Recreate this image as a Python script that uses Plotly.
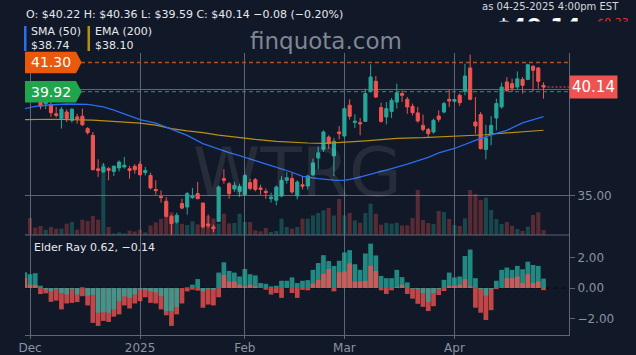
import plotly.graph_objects as go
import pandas as pd

# ---------------- data ----------------
holidays = ['2024-12-25', '2025-01-01', '2025-01-09', '2025-01-20', '2025-02-17', '2025-04-18']
dates = [d.strftime('%Y-%m-%d') for d in pd.bdate_range('2024-11-29', '2025-04-25')
         if d.strftime('%Y-%m-%d') not in holidays]

opens = [40.30, 40.15, 39.75, 39.47, 39.35, 39.32, 38.88, 38.65, 38.96, 38.57,
         38.73, 38.76, 38.18, 37.86, 36.28, 36.13, 36.29, 36.16, 36.32, 36.37,
         36.29, 36.40, 36.50, 36.10, 35.97, 35.31, 34.98, 34.75, 34.04, 33.77,
         34.64, 34.48, 34.92, 35.11, 34.67, 33.68, 33.54, 33.80, 35.82, 35.58,
         35.33, 35.22, 35.06, 35.63, 35.77, 35.38, 35.22, 34.87, 34.80, 35.00,
         35.74, 35.82, 35.00, 35.53, 35.47, 36.00, 36.79, 37.20, 37.78, 36.89,
         38.02, 37.83, 39.28, 38.47, 38.46, 38.52, 39.94, 40.41, 39.17, 38.73,
         38.99, 39.43, 39.83, 39.56, 39.23, 38.92, 38.33, 38.14, 38.02, 38.77,
         38.96, 39.56, 39.47, 39.75, 39.94, 41.04, 38.49, 38.84, 37.19, 37.89,
         38.68, 39.20, 40.38, 40.30, 40.14, 40.50, 40.50, 41.12, 41.04, 40.22]
highs = [40.40, 40.30, 40.35, 39.51, 39.47, 39.43, 39.20, 39.20, 39.09, 39.15,
         38.88, 39.12, 38.25, 38.02, 36.73, 36.56, 36.37, 36.45, 36.68, 36.84,
         36.42, 36.50, 36.64, 36.37, 36.10, 35.74, 35.27, 34.95, 34.12, 34.21,
         34.87, 35.19, 35.38, 35.66, 34.67, 34.12, 33.65, 35.50, 36.26, 35.66,
         35.66, 35.58, 36.05, 35.82, 35.85, 35.53, 35.35, 35.16, 35.50, 35.93,
         36.13, 36.10, 35.74, 35.94, 36.00, 36.76, 37.34, 38.10, 37.86, 37.74,
         38.30, 39.20, 39.56, 38.85, 38.68, 40.06, 41.21, 40.66, 39.40, 39.43,
         39.62, 40.30, 39.98, 39.67, 39.36, 39.20, 38.84, 38.21, 38.65, 39.04,
         39.45, 40.03, 39.59, 39.83, 41.24, 41.67, 39.67, 38.96, 38.36, 38.77,
         39.59, 40.35, 40.61, 40.53, 40.88, 40.61, 41.24, 41.16, 41.08, 40.36]
lows = [40.00, 39.60, 39.59, 39.09, 39.10, 38.73, 38.70, 38.18, 38.49, 38.46,
        38.41, 38.30, 37.90, 36.21, 35.90, 36.10, 35.74, 35.94, 36.16, 36.29,
        35.82, 36.05, 35.97, 35.97, 35.31, 35.06, 34.69, 34.00, 33.14, 33.70,
        34.37, 34.12, 34.87, 34.87, 33.49, 33.49, 33.30, 33.77, 35.58, 34.87,
        35.19, 34.95, 35.03, 35.27, 35.22, 35.06, 34.87, 34.69, 34.56, 34.94,
        35.58, 35.11, 34.84, 35.30, 35.30, 35.94, 36.26, 37.08, 37.23, 35.94,
        37.67, 37.78, 38.60, 38.21, 37.86, 38.49, 39.87, 39.62, 38.46, 38.38,
        38.68, 39.12, 39.43, 38.88, 38.80, 38.46, 38.05, 37.74, 37.94, 38.49,
        38.90, 39.20, 39.40, 39.25, 39.75, 39.51, 37.94, 37.20, 36.73, 37.39,
        38.10, 39.12, 39.91, 39.91, 40.03, 39.83, 40.46, 39.94, 40.06, 39.59]
closes = [40.15, 39.70, 39.62, 39.23, 39.45, 38.93, 38.80, 39.09, 38.65, 39.09,
          38.65, 38.36, 37.99, 36.24, 36.20, 36.37, 36.21, 36.40, 36.60, 36.45,
          36.20, 36.24, 36.00, 36.20, 35.38, 35.25, 34.92, 34.04, 33.70, 34.09,
          34.43, 35.11, 35.00, 34.87, 33.54, 33.60, 33.46, 35.42, 35.74, 35.11,
          35.50, 35.45, 35.97, 35.35, 35.31, 35.31, 35.16, 34.95, 35.42, 35.74,
          35.86, 35.19, 35.66, 35.46, 35.94, 36.56, 37.04, 38.02, 37.47, 37.58,
          37.94, 39.12, 38.76, 38.53, 38.40, 39.83, 40.61, 39.67, 38.52, 39.12,
          39.51, 39.87, 39.75, 39.20, 38.93, 38.54, 38.14, 37.94, 38.57, 38.62,
          39.36, 39.48, 39.55, 39.40, 40.66, 39.56, 38.30, 37.23, 37.74, 38.33,
          39.36, 40.14, 39.98, 40.09, 40.53, 40.22, 41.19, 40.93, 40.41, 40.14]
volumes_k = [120, 1530, 660, 810, 480, 720, 570, 570, 1020, 1170,
             480, 1380, 1260, 1710, 1380, 6390, 720, 140, 240, 150,
             400, 320, 480, 240, 860, 1130, 1440, 1760, 2040, 1220,
             1010, 900, 1230, 950, 1400, 1710, 1490, 1020, 1920, 1040,
             1080, 1920, 1170, 1170, 420, 330, 630, 270, 360, 1470,
             720, 570, 720, 1470, 1470, 1770, 1980, 2220, 2430, 1760,
             3240, 1770, 1980, 1320, 1110, 1980, 2820, 1920, 930, 1080,
             1020, 1110, 860, 860, 1530, 4050, 1350, 1080, 990, 2160,
             2070, 1440, 900, 810, 1500, 4050, 3690, 3150, 3360, 2250,
             1440, 990, 1170, 840, 540, 360, 750, 1800, 2040, 450]

# SMA(50) and EMA(200) at selected sessions
sma_dates = ['2024-11-29', '2024-12-03', '2024-12-05', '2024-12-11', '2024-12-17', '2024-12-20',
             '2024-12-24', '2024-12-27', '2025-01-02', '2025-01-07', '2025-01-13', '2025-01-16',
             '2025-01-22', '2025-01-27', '2025-01-29', '2025-01-31', '2025-02-05', '2025-02-11',
             '2025-02-14', '2025-02-19', '2025-02-24', '2025-02-27', '2025-03-03', '2025-03-05',
             '2025-03-10', '2025-03-14', '2025-03-19', '2025-03-25', '2025-03-27', '2025-04-01',
             '2025-04-07', '2025-04-10', '2025-04-15', '2025-04-21', '2025-04-25']
sma50 = [39.12, 39.23, 39.28, 39.34, 39.32, 39.20, 39.05, 38.88, 38.60, 38.44,
         38.15, 37.86, 37.47, 37.20, 37.05, 36.90, 36.66, 36.37, 36.12, 35.93,
         35.82, 35.75, 35.74, 35.83, 36.02, 36.29, 36.50, 36.82, 37.03, 37.24,
         37.62, 37.88, 38.10, 38.45, 38.74]
ema_dates = ['2024-11-29', '2024-12-06', '2024-12-18', '2024-12-23', '2024-12-26', '2024-12-30',
             '2025-01-02', '2025-01-07', '2025-01-13', '2025-01-16', '2025-01-22', '2025-01-27',
             '2025-01-29', '2025-01-31', '2025-02-05', '2025-02-11', '2025-02-14', '2025-02-20',
             '2025-02-25', '2025-02-28', '2025-03-04', '2025-03-07', '2025-03-12', '2025-03-17',
             '2025-03-24', '2025-03-27', '2025-04-03', '2025-04-09', '2025-04-11', '2025-04-17',
             '2025-04-22', '2025-04-25']
ema200 = [38.60, 38.62, 38.58, 38.54, 38.49, 38.47, 38.44, 38.34, 38.18, 38.07,
          37.99, 37.87, 37.81, 37.75, 37.67, 37.58, 37.53, 37.50, 37.48, 37.51,
          37.55, 37.60, 37.66, 37.72, 37.75, 37.78, 37.86, 37.89, 37.94, 38.00,
          38.05, 38.10]

# Elder Ray bull / bear power
elder_bull = [1.04, 0.91, 0.98, 0.15, -0.10, -0.22, -0.07, -0.33, -0.43, -0.07,
              -0.43, 0.05, -0.50, -0.45, -1.63, -1.59, -1.63, -1.41, -0.87, -0.54,
              -0.65, -0.43, -0.11, -0.11, -0.22, -0.28, -0.54, -1.52, -1.52, -1.24,
              0.00, 0.05, 0.22, 0.59, -0.22, -0.05, -0.11, 1.02, 1.70, 1.13,
              1.02, 0.76, 1.26, 0.91, 0.83, 0.33, 0.28, 0.11, 0.15, 0.48,
              0.48, 0.70, 0.33, 0.48, 0.52, 1.20, 1.65, 2.17, 1.78, 1.46,
              1.80, 2.35, 2.50, 1.57, 1.20, 2.28, 2.93, 2.15, 0.80, 0.65,
              0.65, 1.20, 0.72, 0.37, -0.04, -0.07, -0.33, -0.93, -0.33, -0.07,
              0.54, 1.02, 0.70, 0.76, 2.11, 2.54, 0.65, -0.07, -0.50, -0.07,
              0.48, 1.20, 1.35, 1.20, 1.46, 1.24, 1.74, 1.52, 1.46, 0.62]
elder_bear = [0.65, 0.22, 0.22, -0.40, -0.35, -0.91, -0.83, -1.41, -1.02, -0.98,
              -0.93, -0.54, -1.15, -2.30, -2.50, -2.17, -2.24, -1.89, -1.74, -1.15,
              -1.35, -1.02, -0.87, -0.61, -0.98, -1.02, -1.41, -1.80, -2.50, -1.74,
              -1.02, -0.22, -0.11, -0.17, -1.30, -1.09, -1.15, -0.61, 0.87, 0.43,
              0.43, 0.22, 0.11, 0.22, 0.11, 0.00, -0.11, -0.43, -0.33, -0.65,
              0.00, -0.33, -0.65, -0.12, -0.15, 0.30, 0.54, 0.93, 1.26, -0.22,
              1.04, 1.09, 1.63, 0.43, 0.43, 0.48, 1.46, 1.13, -0.15, -0.39,
              -0.15, 0.07, 0.22, -0.39, -0.70, -1.04, -1.24, -1.52, -1.20, -0.46,
              -0.20, 0.15, 0.15, 0.22, 0.59, 0.11, -1.30, -1.63, -2.11, -1.46,
              -0.07, 0.00, 0.65, 0.65, 0.76, 0.33, 0.91, 0.33, 0.43, -0.14]

level_high = 41.30
level_ref = 39.92
last_close = closes[-1]
day_change = -0.23
tick_months = ['2024-12-02', '2025-01-02', '2025-02-03', '2025-03-03', '2025-04-01']
tick_month_text = ['Dec', '2025', 'Feb', 'Mar', 'Apr']

# ---------------- geometry / style ----------------
W, H = 636, 355
ML, MR, MT, MB = 25, 67, 53, 20
PW, PH = W - ML - MR, H - MT - MB
SPLIT = 100 / PH
Y_RANGE = [33.16, 41.745]
E_RANGE = [-3.10, 3.50]
X_RANGE = [0.046, 103.86]
BG = '#111827'
GRID = '#5d6577'
TXT = '#e6e8ee'
AX = '#8a92a3'
UP, DN = '#26a69a', '#ef5350'
FONT = 'DejaVu Sans'


def px(X):
    return (X - ML) / PW


def py(Y):
    return (H - MB - Y) / PH


def price_paper(p):
    return SPLIT + (p - Y_RANGE[0]) / (Y_RANGE[1] - Y_RANGE[0]) * (1 - SPLIT)


fig = go.Figure()

vol_colors = ['rgba(38,166,154,0.33)' if c >= o else 'rgba(239,83,80,0.32)'
              for o, c in zip(opens, closes)]
fig.add_trace(go.Bar(x=dates, y=volumes_k, marker=dict(color=vol_colors, line=dict(width=0)),
                     width=0.78, yaxis='y2', xaxis='x', hoverinfo='skip'))

fig.add_trace(go.Candlestick(
    x=dates, open=opens, high=highs, low=lows, close=closes,
    increasing=dict(line=dict(color=UP, width=1), fillcolor=UP),
    decreasing=dict(line=dict(color=DN, width=1), fillcolor=DN),
    whiskerwidth=0, xaxis='x', yaxis='y', hoverinfo='skip'))

fig.add_trace(go.Scatter(x=ema_dates, y=ema200, mode='lines', line=dict(color='#b8900f', width=1.2),
                         xaxis='x', yaxis='y', hoverinfo='skip'))
fig.add_trace(go.Scatter(x=sma_dates, y=sma50, mode='lines', line=dict(color='#2a6df0', width=1.3),
                         xaxis='x', yaxis='y', hoverinfo='skip'))

# Elder ray: larger magnitude drawn behind, smaller in front
TEAL_E, RED_E = 'rgba(38,166,154,0.8)', 'rgba(239,83,80,0.8)'
back_v, back_c, front_v, front_c = [], [], [], []
for b, r in zip(elder_bull, elder_bear):
    if abs(b) >= abs(r):
        back_v.append(b); back_c.append(TEAL_E); front_v.append(r); front_c.append(RED_E)
    else:
        back_v.append(r); back_c.append(RED_E); front_v.append(b); front_c.append(TEAL_E)
fig.add_trace(go.Bar(x=dates, y=back_v, marker=dict(color=back_c, line=dict(width=0)), width=0.9,
                     xaxis='x', yaxis='y3', hoverinfo='skip'))
fig.add_trace(go.Bar(x=dates, y=front_v, marker=dict(color=front_c, line=dict(width=0)), width=0.9,
                     xaxis='x', yaxis='y3', hoverinfo='skip'))

shapes = []
shapes.append(dict(type='line', xref='x', yref='y', x0=X_RANGE[0], x1=X_RANGE[1], y0=level_high, y1=level_high,
                   line=dict(color='#b4501e', width=1.5, dash='4px,3px')))
shapes.append(dict(type='line', xref='x', yref='y', x0=X_RANGE[0], x1=X_RANGE[1], y0=level_ref, y1=level_ref,
                   line=dict(color='#2a9a5a', width=1, dash='4px,3px')))
shapes.append(dict(type='line', xref='x', yref='y', x0=len(dates) - 1, x1=X_RANGE[1], y0=last_close, y1=last_close,
                   line=dict(color=DN, width=1, dash='2px,2px')))
shapes.append(dict(type='line', xref='x', yref='y3', x0=X_RANGE[0], x1=X_RANGE[1], y0=0, y1=0,
                   line=dict(color='#05070c', width=1, dash='4px,4px'), layer='below'))
shapes.append(dict(type='line', xref='paper', yref='paper', x0=0, x1=1, y0=SPLIT, y1=SPLIT,
                   line=dict(color=GRID, width=1)))


def tag(p, color):
    yc = price_paper(p)
    hh = 10.8 / PH
    xl, xb, xt = px(25), px(76), px(81.7)
    path = (f'M {xl},{yc - hh} L {xb},{yc - hh} L {xt},{yc} L {xb},{yc + hh} '
            f'L {xl},{yc + hh} Z')
    return dict(type='path', xref='paper', yref='paper', path=path, fillcolor=color,
                line=dict(width=0), layer='above')


shapes.append(tag(level_high, '#e8590c'))
shapes.append(tag(level_ref, '#1fa54c'))
shapes.append(dict(type='rect', xref='paper', yref='paper', x0=px(24), x1=px(26.5), y0=py(51), y1=py(26),
                   fillcolor='#2a6df0', line=dict(width=0)))
shapes.append(dict(type='rect', xref='paper', yref='paper', x0=px(87.5), x1=px(90), y0=py(51), y1=py(26),
                   fillcolor='#b8900f', line=dict(width=0)))

ann = []


def txt(text, X, Y, size=11, color=TXT, xanchor='left', yanchor='middle', **kw):
    ann.append(dict(text=text, x=px(X), y=py(Y), xref='paper', yref='paper', showarrow=False,
                    xanchor=xanchor, yanchor=yanchor, font=dict(family=FONT, size=size, color=color), **kw))


o, h_, l_, c_ = opens[-1], highs[-1], lows[-1], closes[-1]
chg = c_ - o
txt(f'O: ${o:.2f} H: ${h_:.2f} L: ${l_:.2f} C: ${c_:.2f} \u2212{abs(chg):.2f} (\u2212{abs(chg) / o * 100:.2f}%)',
    24, 15)
txt('SMA (50)', 29, 32)
txt(f'${sma50[-1]:.2f}', 29, 46)
txt('EMA (200)', 93, 32)
txt(f'${ema200[-1]:.2f}', 93, 46)
txt('finquota.com', 326, 41, size=23, color='#7f8694', xanchor='center')
# large quote in the top-right corner, only its upper edge shows
txt(f'<b>${last_close:.2f}</b>', 494, 11.5, size=22, color='#ffffff', yanchor='top')
txt(f'\u2212${abs(day_change):.2f}', 586, 13.5, size=11, color='#e8322e', yanchor='top')
ann.append(dict(text='\u00a0', x=px(480), y=py(20.5), xref='paper', yref='paper', showarrow=False,
                xanchor='left', yanchor='top', width=150, height=16, bgcolor=BG, borderpad=0,
                font=dict(family=FONT, size=8, color=BG)))
txt('as 04-25-2025 4:00pm EST', 621, 6.5, size=10, color='#d5d8df', xanchor='right')
txt('WTRG', 297, 172, size=68, color='rgba(255,255,255,0.09)', xanchor='center')
txt(f'Elder Ray {elder_bull[-1]:.2f}, \u2212{abs(elder_bear[-1]):.2f}', 32, 247)
txt(f'{level_high:.2f}', 51, (H - MB) - price_paper(level_high) * PH, size=14, color='#ffffff', xanchor='center')
txt(f'{level_ref:.2f}', 51, (H - MB) - price_paper(level_ref) * PH, size=14, color='#ffffff', xanchor='center')
ann.append(dict(text=f'{last_close:.2f}', x=1, y=last_close, xref='paper', yref='y', showarrow=False,
                xanchor='left', yanchor='middle', bgcolor=DN, width=43, height=18, borderpad=2,
                font=dict(family=FONT, size=15, color='#ffffff')))

fig.update_layout(
    width=W, height=H, margin=dict(l=ML, r=MR, t=MT, b=MB, autoexpand=False),
    paper_bgcolor=BG, plot_bgcolor=BG, showlegend=False, barmode='overlay', boxgap=0.15,
    font=dict(family=FONT, color=AX, size=12),
    xaxis=dict(type='category', categoryorder='array', categoryarray=dates, range=X_RANGE,
               anchor='y3', tickmode='array', tickvals=tick_months, ticktext=tick_month_text,
               showgrid=True, gridcolor=GRID, gridwidth=1, showline=True, linecolor=GRID,
               ticks='outside', ticklen=3, tickcolor=GRID, rangeslider=dict(visible=False),
               ticklabelstandoff=-1,
               tickfont=dict(size=12, color=AX), zeroline=False, automargin=False),
    yaxis=dict(domain=[SPLIT, 1], range=Y_RANGE, side='right', tickmode='array', tickvals=[35, 40],
               ticktext=['35.00', ''], showgrid=True, gridcolor=GRID, showline=True, linecolor=GRID,
               ticks='outside', ticklen=5, tickcolor=GRID, zeroline=False, anchor='x',
               tickfont=dict(size=12, color=AX), automargin=False),
    yaxis2=dict(overlaying='y', range=[0, 16380], visible=False, showgrid=False, zeroline=False),
    yaxis3=dict(domain=[0, SPLIT], range=E_RANGE, side='right', tickmode='array', tickvals=[-2, 0, 2],
                ticktext=['\u22122.00', '0.00', '2.00'], showgrid=False, showline=True, linecolor=GRID,
                ticks='outside', ticklen=5, tickcolor=GRID, zeroline=False, anchor='x',
                tickfont=dict(size=12, color=AX), automargin=False),
    shapes=shapes, annotations=ann,
)

fig.write_html('out.html')
